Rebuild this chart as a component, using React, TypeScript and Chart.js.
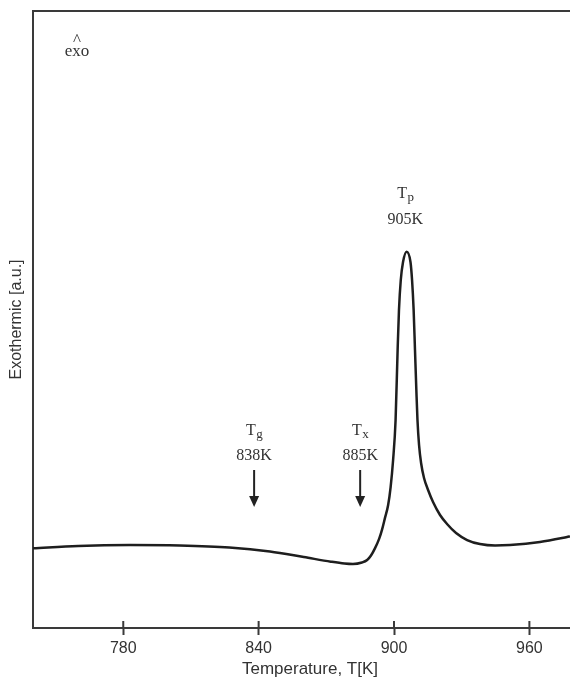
import React, { useEffect, useRef } from 'react';
import { Chart, registerables } from 'chart.js';

Chart.register(...registerables);

// Temperature (K)
const temperatures = [
  740, 760, 783, 805, 827, 845, 860, 872, 878, 881.8, 885.8, 888.1, 889.8, 891.6,
  893.4, 894.7, 896.0, 897.4, 898.5, 899.6, 900.7, 901.6, 902.2, 903.0, 904.0,
  905.6, 907.3, 908.0, 908.7, 909.3, 909.9, 910.4, 911.1, 912.0, 913.3, 915.1,
  917.3, 920.4, 923.5, 927.5, 932.4, 938.1, 944.8, 951.4, 964.7, 976.7, 978,
];
// Heat flow (a.u.)
const heatFlow = [
  12.92, 13.3, 13.45, 13.37, 13.05, 12.4, 11.5, 10.75, 10.45, 10.37, 10.62, 11.02,
  11.75, 12.95, 14.45, 15.95, 17.85, 19.94, 22.85, 27.23, 33.71, 45.06, 51.54,
  56.4, 59.32, 60.99, 59.32, 56.4, 51.54, 45.06, 38.57, 33.71, 29.66, 26.74,
  24.31, 22.37, 20.42, 18.31, 16.86, 15.4, 14.26, 13.61, 13.37, 13.45, 13.94,
  14.75, 14.85,
];

const xTicks = [780, 840, 900, 960];
const markerTemps = [838, 885];
const markerSubs = ['g', 'x'];
const markerLabels = ['838K', '885K'];
const peakTemp = 905;
const peakLabel = '905K';
const xTitle = 'Temperature, T[K]';
const yTitle = 'Exothermic [a.u.]';

const axisColor = '#3a3a3a';
const textColor = '#333333';
const serif = '"Liberation Serif", "Times New Roman", serif';
const sans = '"Liberation Sans", Arial, sans-serif';

const annotationPlugin = {
  id: 'dscAnnotations',
  afterDraw(chart: any) {
    const { ctx, chartArea, scales } = chart;
    const xs = scales.x;
    ctx.save();
    ctx.strokeStyle = axisColor;
    ctx.lineWidth = 2;
    // top frame line
    ctx.beginPath();
    ctx.moveTo(chartArea.left - 1, chartArea.top);
    ctx.lineTo(chartArea.right, chartArea.top);
    ctx.stroke();
    // inner part of tick marks
    xTicks.forEach((v) => {
      const px = xs.getPixelForValue(v);
      ctx.beginPath();
      ctx.moveTo(px, chartArea.bottom);
      ctx.lineTo(px, chartArea.bottom - 7);
      ctx.stroke();
    });

    // x axis title
    ctx.fillStyle = textColor;
    ctx.font = `17px ${sans}`;
    ctx.textAlign = 'center';
    ctx.textBaseline = 'alphabetic';
    ctx.fillText(xTitle, chartArea.left + 277, chartArea.bottom + 46);

    ctx.textBaseline = 'alphabetic';
    ctx.textAlign = 'center';
    ctx.font = `17px ${serif}`;
    ctx.fillText('^', chartArea.left + 44, chartArea.top + 34);
    ctx.font = `17px ${serif}`;
    ctx.fillText('exo', chartArea.left + 44, chartArea.top + 45);

    const drawSub = (main: string, sub: string, cx: number, baseline: number) => {
      ctx.font = `16px ${serif}`;
      const w1 = ctx.measureText(main).width;
      ctx.font = `13px ${serif}`;
      const w2 = ctx.measureText(sub).width;
      const start = cx - (w1 + w2) / 2;
      ctx.textAlign = 'left';
      ctx.font = `16px ${serif}`;
      ctx.fillText(main, start, baseline);
      ctx.font = `13px ${serif}`;
      ctx.fillText(sub, start + w1 + 0.5, baseline + 3);
      ctx.textAlign = 'center';
    };

    markerTemps.forEach((t, i) => {
      const cx = xs.getPixelForValue(t);
      const top = chartArea.top;
      drawSub('T', markerSubs[i], cx, top + 424);
      ctx.font = `16px ${serif}`;
      ctx.textAlign = 'center';
      ctx.fillText(markerLabels[i], cx, top + 449);
      // arrow
      ctx.strokeStyle = '#222';
      ctx.fillStyle = '#222';
      ctx.lineWidth = 2;
      ctx.beginPath();
      ctx.moveTo(cx, top + 459);
      ctx.lineTo(cx, top + 488);
      ctx.stroke();
      ctx.beginPath();
      ctx.moveTo(cx - 5, top + 485);
      ctx.lineTo(cx + 5, top + 485);
      ctx.lineTo(cx, top + 496);
      ctx.closePath();
      ctx.fill();
      ctx.fillStyle = textColor;
    });

    const px = xs.getPixelForValue(peakTemp);
    drawSub('T', 'p', px, chartArea.top + 187);
    ctx.font = `16px ${serif}`;
    ctx.textAlign = 'center';
    ctx.fillText(peakLabel, px, chartArea.top + 213);
    ctx.restore();
  },
};

export default function App() {
  const ref = useRef<HTMLCanvasElement>(null);
  useEffect(() => {
    const chart = new Chart(ref.current as HTMLCanvasElement, {
      type: 'line',
      data: {
        datasets: [
          {
            data: temperatures.map((t, i) => ({ x: t, y: heatFlow[i] })),
            borderColor: '#1e1e1e',
            borderWidth: 2.5,
            pointRadius: 0,
            fill: false,
            cubicInterpolationMode: 'monotone',
          },
        ],
      },
      options: {
        animation: false,
        responsive: false,
        devicePixelRatio: 1,
        layout: { padding: { top: 11, right: 0, left: 0, bottom: 0 } },
        plugins: { legend: { display: false }, tooltip: { enabled: false } },
        scales: {
          x: {
            type: 'linear',
            min: 740,
            max: 978,
            afterBuildTicks: (scale: any) => {
              scale.ticks = xTicks.map((v) => ({ value: v }));
            },
            afterFit: (scale: any) => {
              scale.height = 49;
            },
            grid: {
              drawOnChartArea: false,
              drawTicks: true,
              tickLength: 7,
              tickWidth: 2,
              tickColor: axisColor,
            },
            border: { display: true, color: axisColor, width: 2 },
            ticks: {
              padding: 4,
              color: textColor,
              font: { family: sans, size: 16 },
              maxRotation: 0,
            },
            title: { display: false },
          },
          y: {
            min: 0,
            max: 100,
            afterFit: (scale: any) => {
              scale.width = 33;
            },
            grid: { display: false },
            border: { display: true, color: axisColor, width: 2 },
            ticks: { display: false },
            title: {
              display: true,
              text: yTitle,
              color: textColor,
              font: { family: sans, size: 16 },
              padding: { top: 7, bottom: 0 },
            },
          },
        },
      },
      plugins: [annotationPlugin],
    } as any);
    return () => chart.destroy();
  }, []);

  return (
    <div style={{ position: 'fixed', left: 0, top: 0, width: 570, height: 677, background: '#ffffff' }}>
      <canvas ref={ref} width={570} height={677} style={{ display: 'block', width: 570, height: 677 }} />
    </div>
  );
}
